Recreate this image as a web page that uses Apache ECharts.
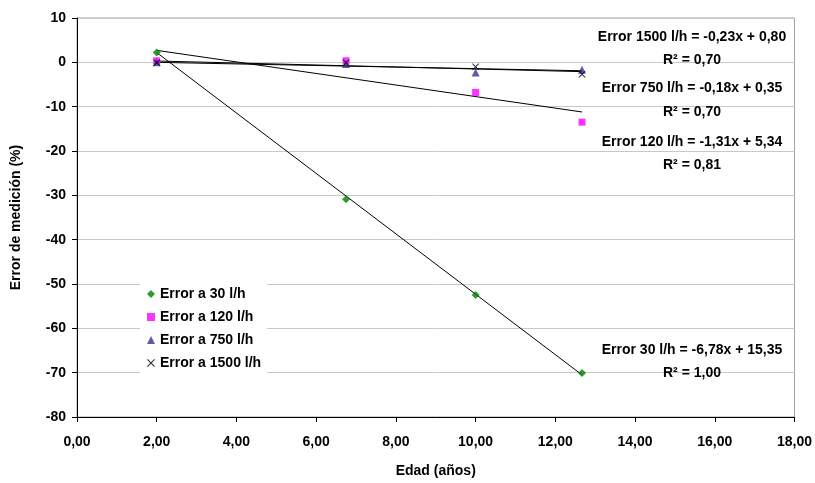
<!DOCTYPE html>
<html>
<head>
<meta charset="utf-8">
<script src="https://cdn.jsdelivr.net/npm/echarts@6/dist/echarts.min.js"></script>
<style>
  html, body { margin: 0; padding: 0; background: #fff; }
  #chart { width: 815px; height: 483px; }
</style>
</head>
<body>
<div id="chart"></div>
<script>
const FONT = "'Liberation Sans', Arial, sans-serif";

// edad (años) de los medidores
const edades = [2.0, 6.75, 10.0, 12.67];

// error de medición (%) por caudal
const error30 = [2.2, -30.9, -52.5, -70.1];
const error120 = [0.35, 0.35, -6.8, -13.5];
const error750 = [0.0, -0.4, -2.3, -1.7];
const error1500 = [-0.1, -0.1, -1.0, -2.7];

// extremos de las líneas de tendencia (x = 2,00 y x = 12,67)
const trendX = [2.0, 12.67];
const trend30 = [2.2, -70.5];
const trend120 = [2.7, -11.2];
const trend750 = [0.0, -1.9];
const trend1500 = [0.3, -2.1];

const seriesNames = ['Error a 30 l/h', 'Error a 120 l/h', 'Error a 750 l/h', 'Error a 1500 l/h'];

const annotations = [
  'Error 1500 l/h = -0,23x + 0,80', 'R² = 0,70',
  'Error 750 l/h = -0,18x + 0,35', 'R² = 0,70',
  'Error 120 l/h = -1,31x + 5,34', 'R² = 0,81',
  'Error 30 l/h = -6,78x + 15,35', 'R² = 1,00'
];
const annotationY = [37, 60, 88, 112, 142, 165, 350, 373];

const crossPath = 'path://M0,1L1,0L5,4L9,0L10,1L6,5L10,9L9,10L5,6L1,10L0,9L4,5Z';

function pairs(xs, ys) {
  return xs.map((x, i) => [x, ys[i]]);
}

function trendSeries(ys) {
  return {
    type: 'line',
    data: pairs(trendX, ys),
    symbol: 'none',
    silent: true,
    lineStyle: { color: '#000', width: 1 },
    z: 2
  };
}

const chart = echarts.init(document.getElementById('chart'));

chart.setOption({
  backgroundColor: '#fff',
  animation: false,
  textStyle: { fontFamily: FONT },
  grid: {
    left: 77,
    right: 18,
    top: 18,
    bottom: 65,
    show: true,
    borderColor: '#a0a0a0',
    borderWidth: 1
  },
  xAxis: {
    type: 'value',
    min: 0,
    max: 18,
    interval: 2,
    name: 'Edad (años)',
    nameLocation: 'middle',
    nameGap: 47,
    nameTextStyle: { color: '#000', fontWeight: 'bold', fontSize: 14, fontFamily: FONT },
    axisLine: { onZero: false, lineStyle: { color: '#000', width: 1 } },
    axisTick: { show: true, length: 5, lineStyle: { color: '#000' } },
    axisLabel: {
      color: '#000',
      fontWeight: 'bold',
      fontSize: 14,
      fontFamily: FONT,
      margin: 18,
      formatter: v => v.toFixed(2).replace('.', ',')
    },
    splitLine: { show: false }
  },
  yAxis: {
    type: 'value',
    min: -80,
    max: 10,
    interval: 10,
    name: 'Error de medición (%)',
    nameLocation: 'middle',
    nameGap: 54,
    nameRotate: 90,
    nameTextStyle: { color: '#000', fontWeight: 'bold', fontSize: 14, fontFamily: FONT },
    axisLine: { onZero: false, lineStyle: { color: '#000', width: 1 } },
    axisTick: { show: true, length: 5, lineStyle: { color: '#000' } },
    axisLabel: {
      color: '#000',
      fontWeight: 'bold',
      fontSize: 14,
      fontFamily: FONT,
      margin: 11
    },
    splitLine: { show: true, lineStyle: { color: '#c8c8c8', width: 1 } }
  },
  legend: {
    data: seriesNames,
    orient: 'vertical',
    left: 140,
    top: 283,
    padding: [4, 6, 5, 7],
    itemGap: 9,
    itemWidth: 8,
    itemHeight: 8,
    itemStyle: { borderWidth: 0 },
    backgroundColor: '#fff',
    textStyle: { color: '#000', fontWeight: 'bold', fontSize: 14, lineHeight: 14, fontFamily: FONT },
    z: 10
  },
  graphic: annotations.map((t, i) => ({
    type: 'text',
    x: 692,
    y: annotationY[i],
    z: 20,
    style: {
      text: t,
      fill: '#000',
      font: 'bold 14px ' + FONT,
      textAlign: 'center',
      textVerticalAlign: 'middle'
    }
  })),
  series: [
    trendSeries(trend30),
    trendSeries(trend120),
    trendSeries(trend750),
    trendSeries(trend1500),
    {
      name: seriesNames[0],
      type: 'scatter',
      data: pairs(edades, error30),
      symbol: 'diamond',
      symbolSize: 8,
      itemStyle: { color: '#008000' },
      z: 3
    },
    {
      name: seriesNames[1],
      type: 'scatter',
      data: pairs(edades, error120),
      symbol: 'rect',
      symbolSize: 7,
      itemStyle: { color: '#ff00ff' },
      z: 3
    },
    {
      name: seriesNames[2],
      type: 'scatter',
      data: pairs(edades, error750),
      symbol: 'triangle',
      symbolSize: 8,
      itemStyle: { color: '#333399' },
      z: 4
    },
    {
      name: seriesNames[3],
      type: 'scatter',
      data: pairs(edades, error1500),
      symbol: crossPath,
      symbolSize: 7,
      itemStyle: { color: '#000' },
      z: 5
    }
  ]
});
</script>
</body>
</html>
